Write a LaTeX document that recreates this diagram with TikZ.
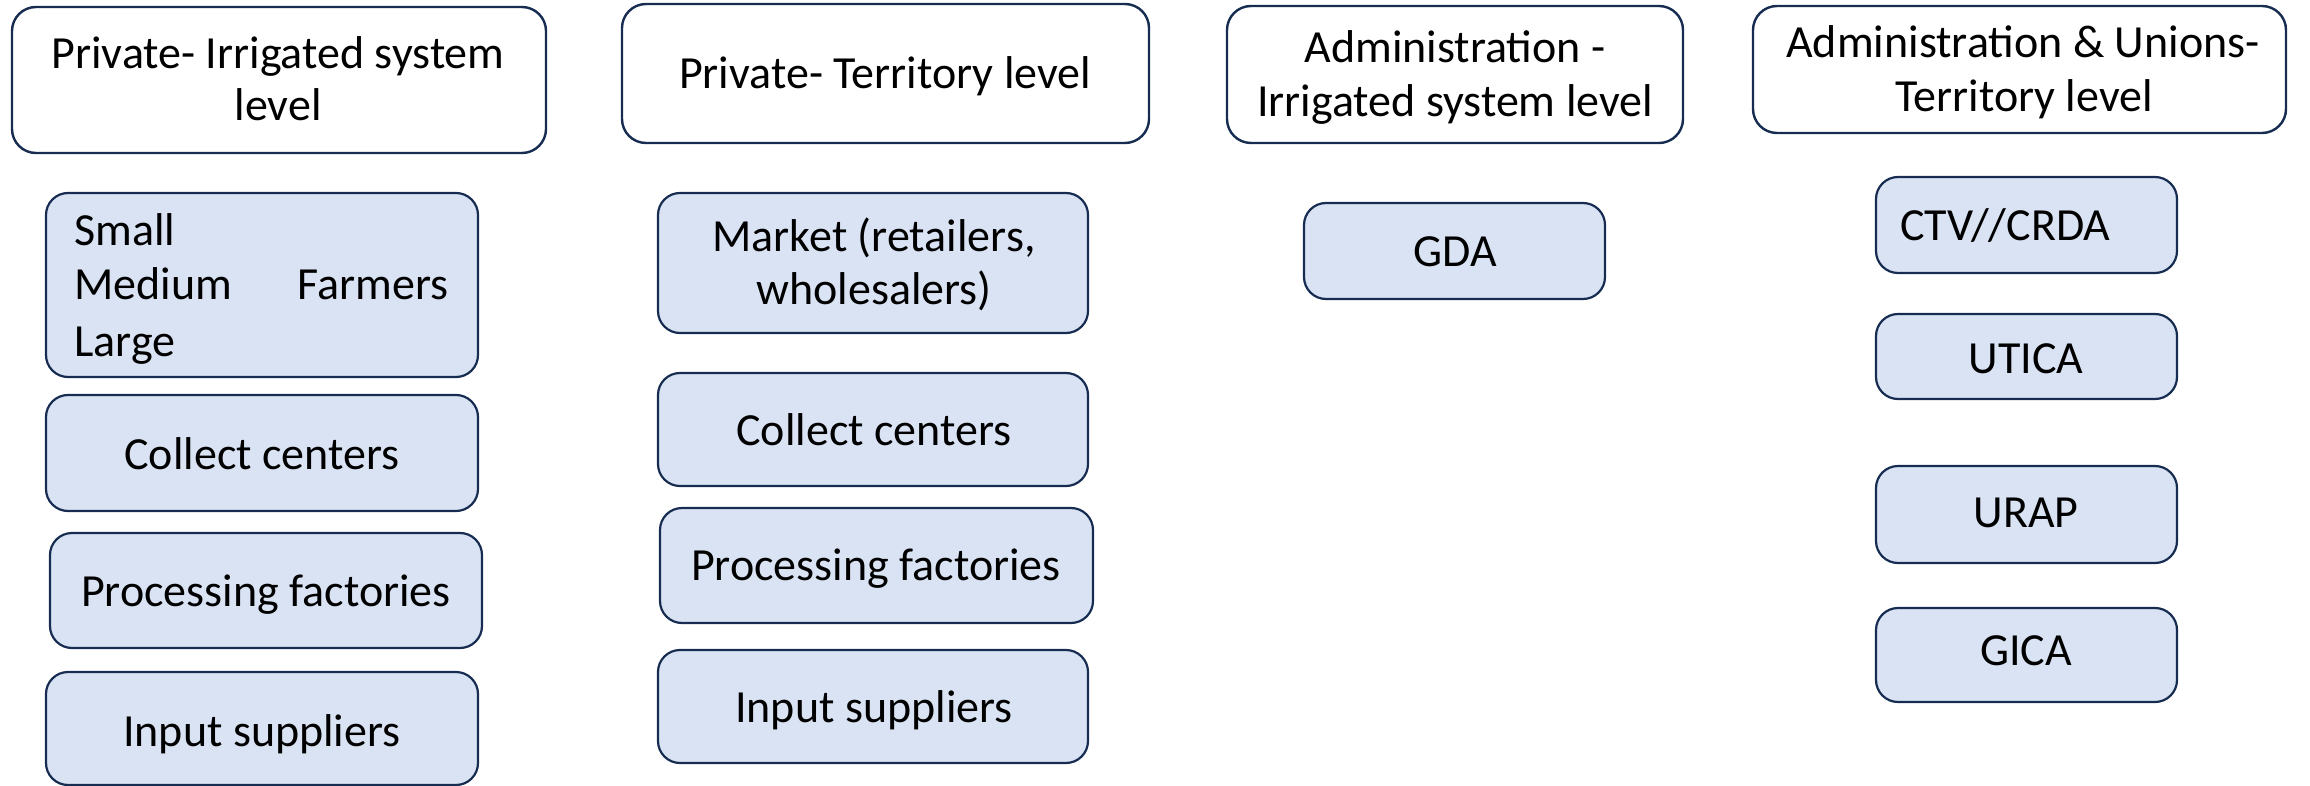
\documentclass[tikz,border=0pt]{standalone}
\usepackage{fontspec}
\setmainfont{Carlito}
\definecolor{bord}{HTML}{172C51}
\definecolor{boxfill}{HTML}{DAE3F3}
\newcommand{\rbox}[6]{\node[#2, minimum width={(#5)-(#3)}, minimum height={(#6)-(#4)}] (#1) at ({((#3)+(#5))/2},{((#4)+(#6))/2}) {};}
\begin{document}
\begin{tikzpicture}[x=1pt,y=-1pt,
  hdr/.style={draw=bord, line width=2.4pt, rounded corners=24pt, fill=white, inner sep=0pt, outer sep=0pt},
  blu/.style={draw=bord, line width=2.2pt, rounded corners=22pt, fill=boxfill, inner sep=0pt, outer sep=0pt},
  txt/.style={font=\fontsize{46}{55}\selectfont, inner sep=0pt, anchor=base}]
\useasboundingbox (0,0) rectangle (2310,786);
% headers
\rbox{h1}{hdr}{12}{7}{546}{153}
\rbox{h2}{hdr}{622}{4}{1149}{143}
\rbox{h3}{hdr}{1227}{6}{1683}{143}
\rbox{h4}{hdr}{1753}{6}{2286}{133}
\node[txt] (h1a) at (278,69) {Private- Irrigated system};
\node[txt] (h1b) at (278,121) {level};
\node[txt] (h2a) at (885,89) {Private- Territory level};
\node[txt] (h3a) at (1455,63) {Administration -};
\node[txt] (h3b) at (1455,117) {Irrigated system level};
\node[txt] (h4a) at (2023,58) {Administration \& Unions-};
\node[txt] (h4b) at (2024,112) {Territory level};
% column 1
\rbox{c1a}{blu}{46}{193}{478}{377}
\rbox{c1b}{blu}{46}{395}{478}{511}
\rbox{c1c}{blu}{50}{533}{482}{648}
\rbox{c1d}{blu}{46}{672}{478}{785}
\node[txt, anchor=base west] (fs) at (74,246) {Small};
\node[txt, anchor=base west] (fm) at (74,300) {Medium};
\node[txt, anchor=base east] (ff) at (449,300) {Farmers};
\node[txt, anchor=base west] (fl) at (74,356) {Large};
\node[txt] (c1bt) at (262,469) {Collect centers};
\node[txt] (c1ct) at (266,606) {Processing factories};
\node[txt] (c1dt) at (262,746) {Input suppliers};
% column 2
\rbox{c2a}{blu}{658}{193}{1088}{333}
\rbox{c2b}{blu}{658}{373}{1088}{486}
\rbox{c2c}{blu}{660}{508}{1093}{623}
\rbox{c2d}{blu}{658}{650}{1088}{763}
\node[txt] (c2at) at (874,252) {Market (retailers,};
\node[txt] (c2au) at (874,305) {wholesalers)};
\node[txt] (c2bt) at (874,445) {Collect centers};
\node[txt] (c2ct) at (876,580) {Processing factories};
\node[txt] (c2dt) at (874,722) {Input suppliers};
% column 3
\rbox{c3a}{blu}{1304}{203}{1605}{299}
\node[txt] (c3at) at (1455,267) {GDA};
% column 4
\rbox{c4a}{blu}{1876}{177}{2177}{273}
\rbox{c4b}{blu}{1876}{314}{2177}{399}
\rbox{c4c}{blu}{1876}{466}{2177}{563}
\rbox{c4d}{blu}{1876}{608}{2177}{702}
\node[txt, anchor=base west] (c4at) at (1900,241) {CTV//CRDA};
\node[txt] (c4bt) at (2026,373) {UTICA};
\node[txt] (c4ct) at (2026,527) {URAP};
\node[txt] (c4dt) at (2026,665) {GICA};
\end{tikzpicture}
\end{document}
